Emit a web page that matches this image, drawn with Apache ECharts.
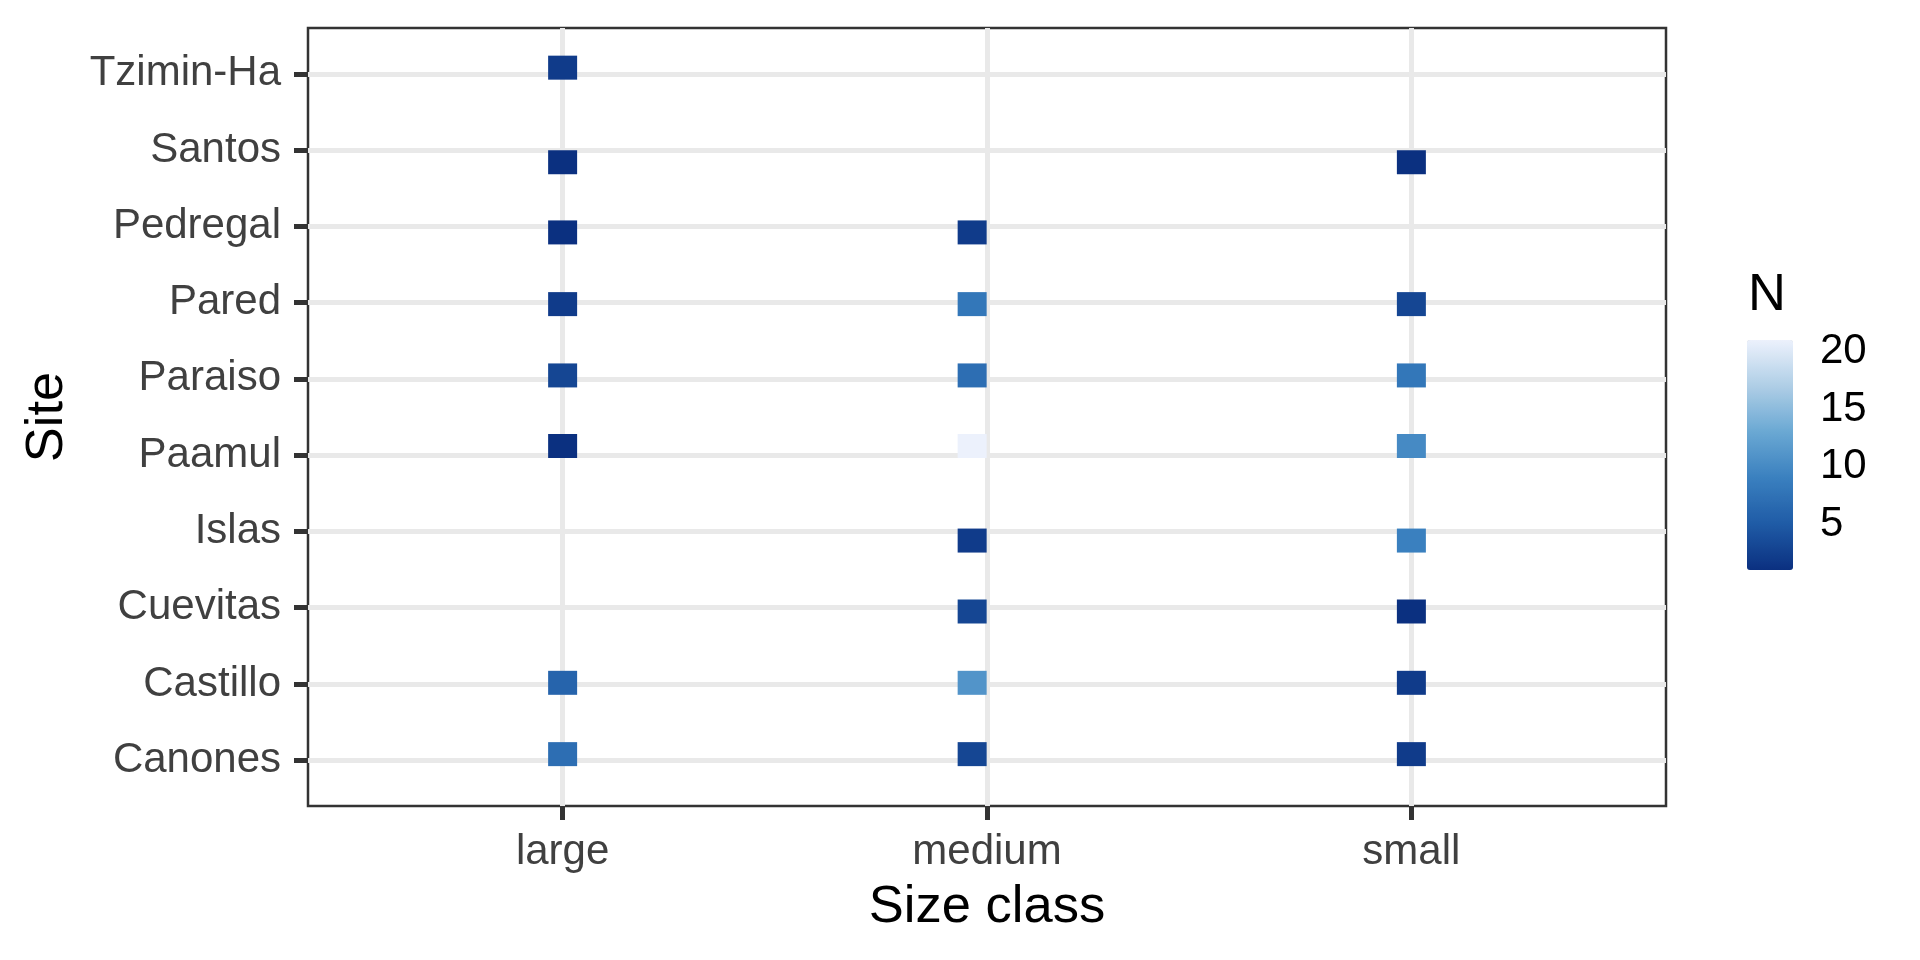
<!doctype html>
<html>
<head>
<meta charset="UTF-8">
<title>Site by size class</title>
<style>
  html, body { margin: 0; padding: 0; background: #fff; }
  #chart { width: 1920px; height: 960px; }
</style>
</head>
<body>
<div id="chart"></div>
<script src="https://cdn.jsdelivr.net/npm/echarts@6/dist/echarts.min.js"></script>
<script>
// sites bottom to top, size classes left to right
var sites = ['Canones', 'Castillo', 'Cuevitas', 'Islas', 'Paamul', 'Paraiso', 'Pared', 'Pedregal', 'Santos', 'Tzimin-Ha'];
var sizes = ['large', 'medium', 'small'];

// N per site (same order as sites), null = no observation
var nLarge  = [7, 6, null, null, 1, 3, 2, 1, 1, 2];
var nMedium = [3, 11, 3, 2, 21, 7, 8, 2, null, null];
var nSmall  = [2, 2, 1, 9, 10, 8, 3, null, 1, null];

// small vertical jitter per site / horizontal shift per size class, in axis units
var siteNudge = [0.08, 0.015, -0.05, -0.12, 0.12, 0.045, -0.02, -0.08, -0.16, 0.08];
var sizeNudge = [0, -0.035, 0];

var legendTicks = [5, 10, 15, 20];
var font = '"Liberation Sans", Arial, Helvetica, sans-serif';

var columns = [nLarge, nMedium, nSmall];
var points = [];
columns.forEach(function (col, i) {
  col.forEach(function (n, j) {
    if (n !== null) points.push([i + sizeNudge[i], j + siteNudge[j], n]);
  });
});

var chart = echarts.init(document.getElementById('chart'));
chart.setOption({
  backgroundColor: '#fff',
  animation: false,
  textStyle: { fontFamily: font },
  grid: [{
    left: 308, top: 28, width: 1358, height: 778,
    show: true, borderColor: '#333333', borderWidth: 2.5, backgroundColor: '#fff'
  }, {
    left: 1747, top: 340, width: 46, height: 230, show: false
  }],
  xAxis: [{
    type: 'value', gridIndex: 0, min: -0.6, max: 2.6,
    name: 'Size class', nameLocation: 'middle', nameGap: 75,
    nameTextStyle: { fontSize: 52.5, color: '#000', fontFamily: font },
    axisLine: { show: false, onZero: false },
    axisTick: { show: true, length: 14, lineStyle: { color: '#333333', width: 5 }, customValues: [0, 1, 2] },
    axisLabel: {
      customValues: [0, 1, 2], margin: 25, fontSize: 42, color: '#404040', fontFamily: font,
      formatter: function (v) { return sizes[Math.round(v)]; }
    },
    splitLine: { show: true, lineStyle: { color: '#E9E9E9', width: 5 } }
  }, {
    type: 'value', gridIndex: 1, show: false, min: 0, max: 1
  }],
  yAxis: [{
    type: 'value', gridIndex: 0, min: -0.6, max: 9.6,
    name: 'Site', nameLocation: 'middle', nameGap: 234, nameRotate: 90,
    nameTextStyle: { fontSize: 52.5, color: '#000', fontFamily: font },
    axisLine: { show: false, onZero: false },
    axisTick: { show: true, length: 14, lineStyle: { color: '#333333', width: 5 }, customValues: [0, 1, 2, 3, 4, 5, 6, 7, 8, 9] },
    axisLabel: {
      customValues: [0, 1, 2, 3, 4, 5, 6, 7, 8, 9], margin: 27, fontSize: 42, color: '#404040', fontFamily: font,
      formatter: function (v) { return sites[Math.round(v)]; }
    },
    splitLine: { show: true, lineStyle: { color: '#E9E9E9', width: 5 } }
  }, {
    type: 'value', gridIndex: 1, position: 'right', min: 1, max: 21,
    axisLine: { show: false, onZero: false },
    axisTick: { show: true, inside: true, length: 9, lineStyle: { color: '#fff', width: 1.5 }, customValues: legendTicks },
    axisLabel: { customValues: legendTicks, margin: 27, fontSize: 42, color: '#000', fontFamily: font },
    splitLine: { show: false }
  }, {
    type: 'value', gridIndex: 1, position: 'left', min: 1, max: 21,
    axisLine: { show: false, onZero: false },
    axisTick: { show: true, inside: true, length: 9, lineStyle: { color: '#fff', width: 1.5 }, customValues: legendTicks },
    axisLabel: { show: false },
    splitLine: { show: false }
  }],
  visualMap: {
    type: 'continuous', min: 1, max: 21, dimension: 2, seriesIndex: 0,
    calculable: false, left: 1747, top: 340, itemWidth: 46, itemHeight: 230, padding: 0,
    inRange: { color: ['#0B3080', '#1F5BA6', '#3A80BF', '#6AA8D3', '#AFCEE6', '#ECF1FC'] }
  },
  graphic: [{
    type: 'text', left: 1748, top: 269,
    style: { text: 'N', fontSize: 52.5, fontFamily: font, fill: '#000' }
  }],
  series: [{
    type: 'scatter', xAxisIndex: 0, yAxisIndex: 0,
    symbol: 'rect', symbolSize: [29, 24],
    itemStyle: { opacity: 1 },
    data: points
  }]
});
</script>
</body>
</html>
